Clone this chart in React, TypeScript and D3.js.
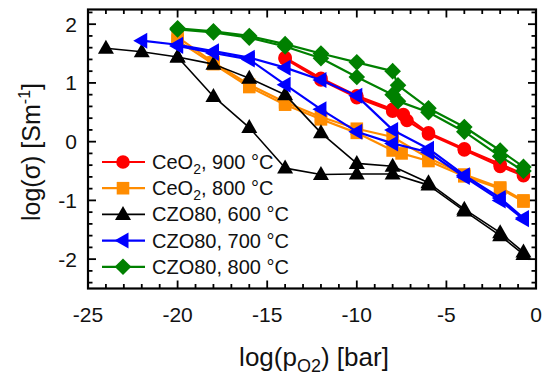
import React from "react";
import * as d3 from "d3";

type P = [number, number];

// CeO2, 900 °C (two sweeps)
const ceo2_900_run1: P[] = [[-14, 1.43], [-12, 1.08], [-10, 0.78], [-8, 0.55], [-7.4, 0.46], [-6, 0.15], [-4, -0.12], [-2, -0.38], [-0.7, -0.55]];
const ceo2_900_run2: P[] = [[-14, 1.41], [-12, 1.05], [-10, 0.75], [-8, 0.52], [-7.2, 0.36], [-6, 0.13], [-4, -0.14], [-2, -0.42], [-0.7, -0.58]];
// CeO2, 800 °C
const ceo2_800_run1: P[] = [[-20, 1.78], [-18, 1.35], [-16, 0.97], [-14, 0.67], [-12, 0.42], [-10, 0.22], [-8, 0.08], [-6, -0.28], [-4, -0.56], [-2, -0.78], [-0.7, -1.0]];
const ceo2_800_run2: P[] = [[-20, 1.72], [-18, 1.32], [-16, 0.93], [-14, 0.63], [-12, 0.38], [-10, 0.15], [-8, -0.15], [-7.5, -0.2], [-6, -0.33], [-4, -0.59], [-2, -0.8], [-0.7, -1.02]];
// CZO80, 600 °C
const czo_600_run1: P[] = [[-24, 1.59], [-22, 1.53], [-20, 1.44], [-18, 1.32], [-16, 1.08], [-14, 0.8], [-12, 0.15], [-10, -0.37], [-8, -0.42], [-6, -0.7], [-4, -1.15], [-2, -1.55], [-0.7, -1.88]];
const czo_600_run2: P[] = [[-20, 1.44], [-18, 0.77], [-16, 0.24], [-14, -0.45], [-12, -0.56], [-10, -0.55], [-8, -0.55], [-6, -0.74], [-4, -1.18], [-2, -1.6], [-0.7, -1.92]];
// CZO80, 700 °C
const czo_700_run1: P[] = [[-22, 1.72], [-20, 1.65], [-18, 1.54], [-16, 1.43], [-14, 1.26], [-12, 1.05], [-10, 0.78], [-8, 0.2], [-6, -0.12], [-4, -0.57], [-2, -0.96], [-0.7, -1.3]];
const czo_700_run2: P[] = [[-20, 1.63], [-18, 1.51], [-16, 1.4], [-14, 0.97], [-12, 0.55], [-10, 0.17], [-8, -0.03], [-6, -0.18], [-4, -0.6], [-2, -1.0], [-0.7, -1.32]];
// CZO80, 800 °C
const czo_800_run1: P[] = [[-20, 1.93], [-18, 1.88], [-16, 1.8], [-14, 1.66], [-12, 1.5], [-10, 1.35], [-8, 1.2], [-7.7, 0.96], [-6, 0.57], [-4, 0.25], [-2, -0.15], [-0.7, -0.43]];
const czo_800_run2: P[] = [[-20, 1.91], [-18, 1.86], [-16, 1.77], [-14, 1.62], [-12, 1.42], [-10, 1.1], [-8, 0.8], [-7.7, 0.69], [-6, 0.5], [-4, 0.17], [-2, -0.25], [-0.7, -0.5]];

const xMajorTicks = [-25, -20, -15, -10, -5, 0];
const yMajorTicks = [-2, -1, 0, 1, 2];

type Marker = "circle" | "square" | "triUp" | "triLeft" | "diamond";
interface Series { name: string; sub?: string; rest: string; color: string; marker: Marker; lw: number; runs: P[][]; }

const series: Series[] = [
  { name: "CeO", sub: "2", rest: ", 900 °C", color: "#ff0000", marker: "circle", lw: 2.2, runs: [ceo2_900_run1, ceo2_900_run2] },
  { name: "CeO", sub: "2", rest: ", 800 °C", color: "#ff8c00", marker: "square", lw: 2.2, runs: [ceo2_800_run1, ceo2_800_run2] },
  { name: "CZO80", rest: ", 600 °C", color: "#000000", marker: "triUp", lw: 1.6, runs: [czo_600_run1, czo_600_run2] },
  { name: "CZO80", rest: ", 700 °C", color: "#0000ff", marker: "triLeft", lw: 2.2, runs: [czo_700_run1, czo_700_run2] },
  { name: "CZO80", rest: ", 800 °C", color: "#008000", marker: "diamond", lw: 2.2, runs: [czo_800_run1, czo_800_run2] },
];

const W = 546, H = 375;
const L = 88, R = 536, T = 9.5, B = 288.5;
const FONT = "Liberation Sans, Arial, sans-serif";

function markerPath(m: Marker): string {
  switch (m) {
    case "circle": return "M6.8,0A6.8,6.8,0,1,1,-6.8,0A6.8,6.8,0,1,1,6.8,0Z";
    case "square": return "M-6.3,-6.3H6.3V6.3H-6.3Z";
    case "triUp": return "M0,-8.5L8,5.5L-8,5.5Z";
    case "triLeft": return "M-8.5,0L5.5,-8L5.5,8Z";
    case "diamond": return "M0,-8.3L8.3,0L0,8.3L-8.3,0Z";
  }
}

export default function App() {
  const x = d3.scaleLinear().domain([-25, 0]).range([L, R]);
  const y = d3.scaleLinear().domain([-2.5, 2.25]).range([B, T]);
  const line = d3.line<P>().x(d => x(d[0])).y(d => y(d[1]));

  const xMinor = d3.range(-25, 0.001, 1);
  const yMinor = d3.range(-2.4, 2.25, 0.2).map(v => Math.round(v * 10) / 10);

  const legX0 = 102, legX1 = 145, legM = 123, legT = 152, legY0 = 162, legDy = 26.2;

  return (
    <svg width={W} height={H} style={{ position: "absolute", left: 0, top: 0, background: "#fff" }} fontFamily={FONT}>
      <rect x={0} y={0} width={W} height={H} fill="#fff" />
      {/* ticks */}
      <g stroke="#000" strokeWidth={1.8}>
        {xMinor.map(v => {
          const major = Math.abs(v % 5) < 1e-6;
          const len = major ? 8 : 4.5;
          return (
            <g key={"xt" + v}>
              <line x1={x(v)} x2={x(v)} y1={B} y2={B - len} />
              <line x1={x(v)} x2={x(v)} y1={T} y2={T + len} />
            </g>
          );
        })}
        {yMinor.map(v => {
          const major = Math.abs(v - Math.round(v)) < 1e-6;
          const len = major ? 8 : 4.5;
          return (
            <g key={"yt" + v}>
              <line x1={L} x2={L + len} y1={y(v)} y2={y(v)} />
              <line x1={R} x2={R - len} y1={y(v)} y2={y(v)} />
            </g>
          );
        })}
      </g>
      {/* data */}
      {series.map((s, i) => (
        <g key={"s" + i}>
          {s.runs.map((r, j) => (
            <path key={j} d={line(r) || ""} fill="none" stroke={s.color} strokeWidth={s.lw} strokeLinejoin="round" />
          ))}
          {s.runs.map((r, j) => r.map((p, k) => (
            <path key={j + "-" + k} d={markerPath(s.marker)} transform={`translate(${x(p[0])},${y(p[1])})`} fill={s.color} />
          )))}
        </g>
      ))}
      {/* frame */}
      <rect x={L} y={T} width={R - L} height={B - T} fill="none" stroke="#000" strokeWidth={2.2} />
      {/* tick labels */}
      <g fontSize={21} fill="#111">
        {xMajorTicks.map(v => (
          <text key={"xl" + v} x={x(v)} y={322} textAnchor="middle">{v}</text>
        ))}
        {yMajorTicks.map(v => (
          <text key={"yl" + v} x={77} y={y(v) + 7.5} textAnchor="end">{v}</text>
        ))}
      </g>
      {/* axis titles */}
      <text x={(L + R) / 2 + 2} y={366} textAnchor="middle" fontSize={26} fill="#111">
        log(p<tspan fontSize={18} dy={6}>O2</tspan><tspan dy={-6}>) [bar]</tspan>
      </text>
      <text transform={`translate(40,${(T + B) / 2 + 3}) rotate(-90)`} textAnchor="middle" fontSize={25} fill="#111">
        log(σ) [Sm<tspan fontSize={16} dy={-10}>-1</tspan><tspan dy={10}>]</tspan>
      </text>
      {/* legend */}
      {series.map((s, i) => {
        const ly = legY0 + i * legDy;
        return (
          <g key={"lg" + i}>
            <line x1={legX0} x2={legX1} y1={ly} y2={ly} stroke={s.color} strokeWidth={s.lw} />
            <path d={markerPath(s.marker)} transform={`translate(${legM},${ly})`} fill={s.color} />
            <text x={legT} y={ly + 7} fontSize={20} fill="#111">
              {s.name}
              {s.sub ? <tspan fontSize={14} dy={5}>{s.sub}</tspan> : null}
              <tspan dy={s.sub ? -5 : 0}>{s.rest}</tspan>
            </text>
          </g>
        );
      })}
    </svg>
  );
}
